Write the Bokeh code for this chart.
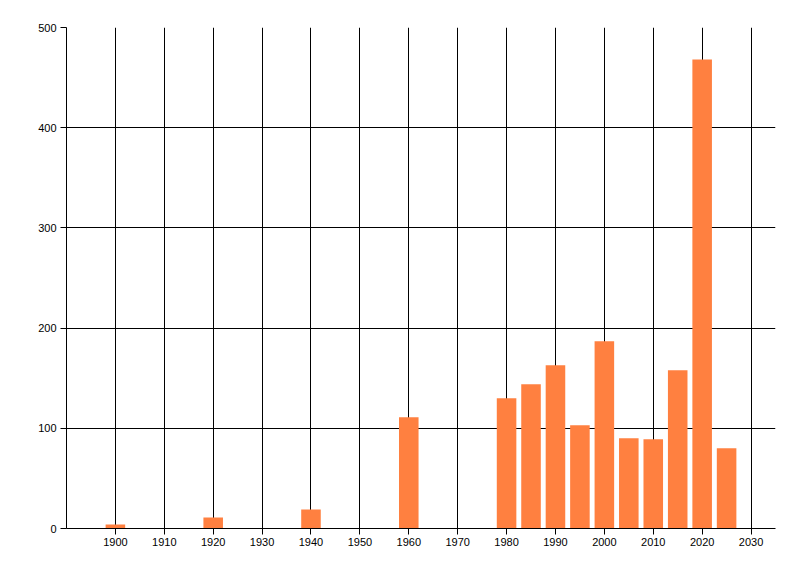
from bokeh.plotting import figure
from bokeh.models import Range1d, FixedTicker
from bokeh.embed import file_html
from bokeh.resources import INLINE


years = [1900, 1920, 1940, 1960, 1980, 1985, 1990, 1995, 2000, 2005, 2010, 2015, 2020, 2025]
counts = [4, 11, 19, 111, 130, 144, 163, 103, 187, 90, 89, 158, 468, 80]

x_ticks = list(range(1900, 2031, 10))
y_ticks = [0, 100, 200, 300, 400, 500]

BAR_COLOR = "#FF8040"
FONT = "Liberation Sans"


def make_plot():
    p = figure(width=784, height=560, output_backend="svg", toolbar_location=None,
               x_range=Range1d(1890, 2035), y_range=Range1d(0, 500),
               min_border_left=66, min_border_right=9,
               min_border_top=27, min_border_bottom=32)
    p.outline_line_color = None

    p.vbar(x=years, top=counts, width=4, color=BAR_COLOR, line_color=None)

    p.xaxis.ticker = FixedTicker(ticks=x_ticks)
    p.yaxis.ticker = FixedTicker(ticks=y_ticks)
    p.xgrid.ticker = FixedTicker(ticks=x_ticks)
    p.ygrid.ticker = FixedTicker(ticks=y_ticks)

    for g in (p.xgrid, p.ygrid):
        g.grid_line_color = "black"
        g.grid_line_alpha = 1.0
        g.grid_line_width = 1

    for ax in (p.xaxis, p.yaxis):
        ax.axis_line_color = "black"
        ax.major_tick_line_color = "black"
        ax.major_tick_in = 0
        ax.major_tick_out = 6
        ax.minor_tick_line_color = None
        ax.major_label_text_font = FONT
        ax.major_label_text_font_size = "11px"
        ax.major_label_text_color = "black"

    p.xaxis.major_label_standoff = 3
    p.yaxis.major_label_standoff = 4

    return p


p = make_plot()
open("out.html", "w").write(file_html(p, INLINE))
